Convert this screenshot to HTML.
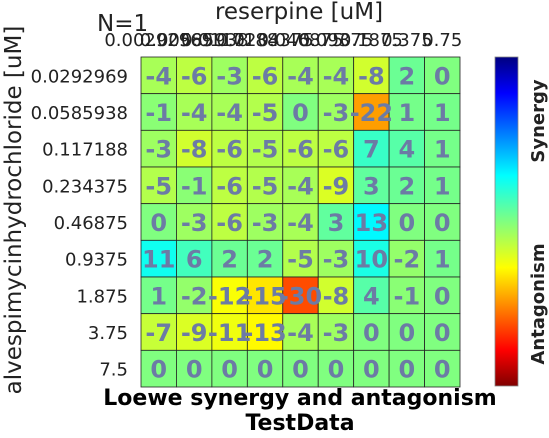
<!DOCTYPE html>
<html><head><meta charset="utf-8"><style>
body{margin:0;background:#fff;width:549px;height:433px;overflow:hidden;font-family:"Liberation Sans","DejaVu Sans",sans-serif}
</style></head><body>
<svg id="c" width="549" height="433" xmlns="http://www.w3.org/2000/svg">
<defs><linearGradient id="cb" x1="0" y1="1" x2="0" y2="0">
<stop offset="0" stop-color="#800000"/><stop offset="0.11" stop-color="#ff0000"/><stop offset="0.36" stop-color="#ffff00"/><stop offset="0.5" stop-color="#80ff80"/><stop offset="0.64" stop-color="#00ffff"/><stop offset="0.89" stop-color="#0000ff"/><stop offset="1" stop-color="#000080"/>
</linearGradient></defs>
<text x="97" y="31" font-size="23" fill="#222" font-family="DejaVu Sans, sans-serif">N=1</text>
<text x="299" y="19" font-size="23" text-anchor="middle" fill="#222" font-family="DejaVu Sans, sans-serif">reserpine [uM]</text>
<text transform="translate(21,210) rotate(-90)" font-size="23" text-anchor="middle" fill="#222" font-family="DejaVu Sans, sans-serif">alvespimycinhydrochloride [uM]</text>
<text x="300" y="405" font-size="22" font-weight="bold" text-anchor="middle" fill="#000" font-family="DejaVu Sans, sans-serif">Loewe synergy and antagonism</text>
<text x="300" y="430" font-size="22" font-weight="bold" text-anchor="middle" fill="#000" font-family="DejaVu Sans, sans-serif">TestData</text>
<g id="cells"></g>
<rect x="495" y="57" width="23" height="329" fill="url(#cb)" stroke="#888" stroke-width="0.8"/>
<text transform="translate(544,121) rotate(-90)" font-size="18" font-weight="bold" text-anchor="middle" fill="#222" font-family="DejaVu Sans, sans-serif">Synergy</text>
<text transform="translate(544,304) rotate(-90)" font-size="18" font-weight="bold" text-anchor="middle" fill="#222" font-family="DejaVu Sans, sans-serif">Antagonism</text>
</svg>
<script>
const colLabels=["0.00292969","0.00585938","0.0117188","0.0234375","0.046875","0.09375","0.1875","0.375","0.75"];
const rowLabels=["0.0292969","0.0585938","0.117188","0.234375","0.46875","0.9375","1.875","3.75","7.5"];
const values=[
[-4,-6,-3,-6,-4,-4,-8,2,0],
[-1,-4,-4,-5,0,-3,-22,1,1],
[-3,-8,-6,-5,-6,-6,7,4,1],
[-5,-1,-6,-5,-4,-9,3,2,1],
[0,-3,-6,-3,-4,3,13,0,0],
[11,6,2,2,-5,-3,10,-2,1],
[1,-2,-12,-15,-30,-8,4,-1,0],
[-7,-9,-11,-13,-4,-3,0,0,0],
[0,0,0,0,0,0,0,0,0]];
const NS="http://www.w3.org/2000/svg";
const x0=141,x1=460,y0=57,y1=387;
const cw=(x1-x0)/colLabels.length,ch=(y1-y0)/rowLabels.length;
const xs=i=>x0+i*cw, ys=j=>y0+j*ch;
function jet(t){const c=v=>Math.round(255*Math.max(0,Math.min(1,v)));
return `rgb(${c(1.5-Math.abs(4*t-3))},${c(1.5-Math.abs(4*t-2))},${c(1.5-Math.abs(4*t-1))})`;}
const colorOf=v=>jet(Math.max(0,Math.min(1,0.5-v/100)));
const g=document.getElementById('cells'),svg=document.getElementById('c');
function mk(tag,a,p){const e=document.createElementNS(NS,tag);for(const k in a)e.setAttribute(k,a[k]);(p||g).appendChild(e);return e;}
values.forEach((row,j)=>row.forEach((v,i)=>{
 const r=mk('rect',{x:xs(i),y:ys(j),width:cw,height:ch,fill:colorOf(v),stroke:'#222','stroke-width':0.8});
 
 
}));
values.forEach((row,j)=>row.forEach((v,i)=>{
 const t=mk('text',{x:xs(i)+cw/2,y:ys(j)+ch/2+9,'text-anchor':'middle','font-size':24,'font-weight':'bold',fill:'#6c7ba5','font-family':'DejaVu Sans, sans-serif'});
 t.textContent=v;
 
 
}));
colLabels.forEach((l,i)=>{
 const t=mk('text',{x:xs(i)+cw/2,y:46,'text-anchor':'middle','font-size':18,fill:'#222','font-family':'DejaVu Sans, sans-serif'},svg);
 t.textContent=l;
 
 
});
rowLabels.forEach((l,j)=>{
 const t=mk('text',{x:128,y:ys(j)+ch/2+7,'text-anchor':'end','font-size':18,fill:'#222','font-family':'DejaVu Sans, sans-serif'},svg);
 t.textContent=l;
 
 
});
</script>
</body></html>
